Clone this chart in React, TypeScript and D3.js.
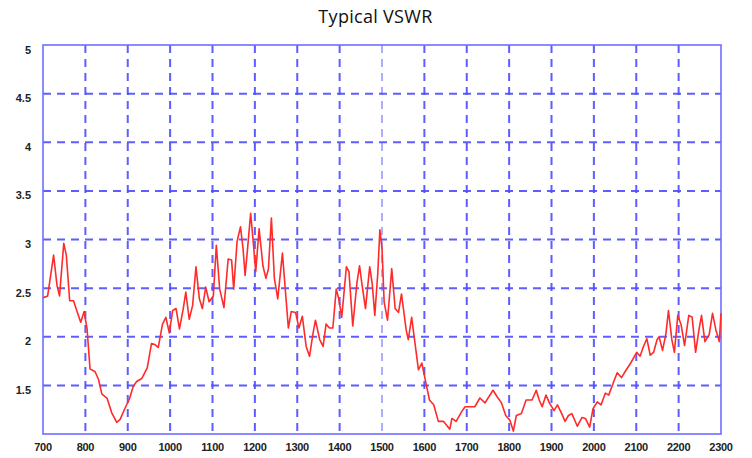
import React from "react";
import * as d3 from "d3";

const freqs = [700,711,725,733,739,749,755,763,772,778,789,797,804,811,823,831,839,851,862,874,882,894,904,913,921,933,946,956,964,972,982,990,998,1006,1014,1022,1031,1037,1045,1053,1061,1069,1076,1084,1092,1102,1109,1117,1127,1137,1145,1150,1158,1166,1172,1177,1182,1190,1196,1202,1210,1219,1226,1232,1239,1246,1254,1265,1271,1279,1286,1296,1304,1312,1321,1329,1337,1343,1353,1361,1368,1376,1384,1392,1398,1405,1416,1422,1431,1441,1447,1453,1461,1471,1477,1483,1490,1495,1500,1505,1513,1523,1531,1539,1546,1557,1562,1570,1578,1586,1594,1602,1612,1622,1633,1645,1660,1665,1675,1688,1696,1719,1731,1743,1762,1772,1782,1792,1802,1810,1817,1829,1840,1854,1864,1871,1878,1887,1895,1906,1914,1924,1932,1940,1948,1961,1972,1980,1990,1998,2008,2017,2027,2035,2047,2055,2065,2075,2087,2101,2109,2117,2125,2133,2141,2149,2154,2162,2170,2176,2184,2190,2198,2206,2214,2224,2232,2240,2248,2254,2262,2272,2280,2288,2296,2300];

const vswr = [2.40,2.42,2.84,2.53,2.42,2.96,2.84,2.37,2.37,2.29,2.15,2.26,2.08,1.67,1.64,1.56,1.41,1.37,1.22,1.12,1.15,1.27,1.36,1.49,1.54,1.57,1.68,1.93,1.92,1.89,2.13,2.20,2.04,2.27,2.29,2.08,2.29,2.46,2.18,2.32,2.72,2.39,2.29,2.51,2.36,2.42,2.94,2.49,2.30,2.80,2.79,2.49,2.98,3.13,2.91,2.63,2.87,3.27,2.98,2.67,3.11,2.73,2.60,2.70,3.22,2.60,2.39,2.86,2.53,2.09,2.26,2.25,2.09,2.21,1.90,1.80,2.03,2.17,1.97,1.90,2.13,2.09,2.09,2.49,2.39,2.20,2.72,2.67,2.11,2.56,2.73,2.53,2.29,2.72,2.54,2.22,2.65,3.10,2.91,2.36,2.17,2.70,2.29,2.25,2.44,2.07,1.97,2.20,1.93,1.66,1.73,1.56,1.35,1.30,1.13,1.13,1.05,1.16,1.13,1.23,1.28,1.28,1.37,1.32,1.45,1.38,1.32,1.19,1.14,1.03,1.19,1.21,1.35,1.35,1.45,1.35,1.28,1.40,1.32,1.24,1.30,1.21,1.13,1.19,1.21,1.08,1.17,1.16,1.07,1.26,1.33,1.30,1.42,1.40,1.54,1.63,1.58,1.65,1.73,1.84,1.80,1.90,1.98,1.81,1.84,1.97,2.00,1.86,2.03,2.27,1.97,1.84,2.22,2.12,1.91,2.22,2.20,1.84,2.07,2.22,1.95,2.02,2.24,2.07,1.95,2.24];

const xTicks = [700,800,900,1000,1100,1200,1300,1400,1500,1600,1700,1800,1900,2000,2100,2200,2300];
const yTicks = [1.5,2,2.5,3,3.5,4,4.5,5];
const xGrid = [800,900,1000,1100,1200,1300,1400,1500,1600,1700,1800,1900,2000,2100,2200];
const yGrid = [1.5,2,2.5,3,3.5,4,4.5];
const title = "Typical VSWR";

export default function App() {
  const W = 752, H = 458;
  const x = d3.scaleLinear().domain([700, 2300]).range([43, 721]);
  const y = d3.scaleLinear().domain([1, 5]).range([434, 45]);
  const pts: [number, number][] = freqs.map((f, i) => [f, vswr[i]]);
  const line = d3.line<[number, number]>().x(d => x(d[0])).y(d => y(d[1]));
  const gridColor = "#4d4dff";
  const tickFont = "'Liberation Sans', Arial, sans-serif";
  return (
    <div style={{ position: "absolute", left: 0, top: 0 }}>
      <svg width={W} height={H} style={{ display: "block", background: "#fff" }}>
        <text x={375.5} y={22.5} textAnchor="middle" fontFamily="'Open Sans', sans-serif" fontSize={18} letterSpacing={0.3} fill="#111">{title}</text>
        {xGrid.map(v => (
          <line key={"gx" + v} x1={x(v)} x2={x(v)} y1={y(5)} y2={y(1)} stroke={gridColor} strokeWidth={2} strokeDasharray="8,6" opacity={v === 1500 ? 0.45 : 0.9} />
        ))}
        {yGrid.map(v => (
          <line key={"gy" + v} x1={x(700)} x2={x(2300)} y1={y(v)} y2={y(v)} stroke={gridColor} strokeWidth={2} strokeDasharray="8,6" opacity={0.9} />
        ))}
        <rect x={x(700)} y={y(5)} width={x(2300) - x(700)} height={y(1) - y(5)} fill="none" stroke="#6f6fff" strokeWidth={1.6} />
        <path d={line(pts) || ""} fill="none" stroke="#ff2a2a" strokeWidth={1.6} strokeLinejoin="round" />
        {yTicks.map(v => (
          <text key={"yt" + v} x={31} y={y(v) + 8.5} textAnchor="end" fontFamily={tickFont} fontWeight="bold" fontSize={11} fill="#222">{String(v)}</text>
        ))}
        {xTicks.map(v => (
          <text key={"xt" + v} x={x(v)} y={451} textAnchor="middle" fontFamily={tickFont} fontWeight="bold" fontSize={11} fill="#222" letterSpacing={-0.3}>{String(v)}</text>
        ))}
      </svg>
    </div>
  );
}
